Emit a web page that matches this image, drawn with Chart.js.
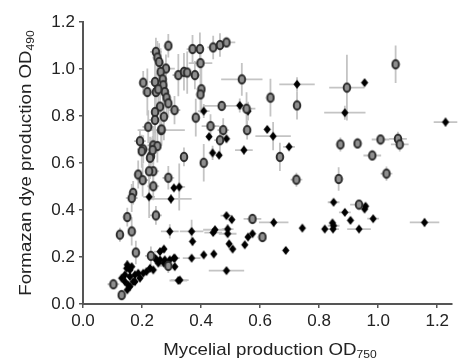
<!DOCTYPE html>
<html>
<head>
<meta charset="utf-8">
<script src="https://cdn.jsdelivr.net/npm/chart.js@4/dist/chart.umd.min.js"></script>
<style>
  body { margin: 0; background: #fff; }
</style>
</head>
<body>
<canvas id="chart" width="461" height="360"></canvas>
<script>
// open circles: x, y, x error, y error
var circX  = [0.289,0.247,0.252,0.258,0.281,0.263,0.323,0.342,0.353,0.379,0.204,0.244,0.270,0.272,0.218,0.247,0.277,0.283,0.289,0.261,0.310,0.244,0.274,0.244,0.221,0.265,0.193,0.204,0.238,0.252,0.230,0.342,0.371,0.396,0.441,0.464,0.486,0.398,0.401,0.398,0.382,0.432,0.475,0.464,0.409,0.289,0.238,0.224,0.187,0.202,0.238,0.170,0.165,0.150,0.247,0.125,0.165,0.179,0.230,0.289,0.103,0.131,0.538,0.635,0.725,0.470,0.554,0.556,0.667,0.723,0.574,0.608,1.059,0.894,0.872,0.930,1.008,1.067,1.073,0.980,1.028,0.866,0.935,0.199,0.227,0.255,0.266,0.236];
var circY  = [1.099,1.073,1.049,1.030,1.002,0.988,0.974,0.988,0.985,0.974,0.942,0.945,0.956,0.931,0.902,0.902,0.902,0.878,0.854,0.840,0.825,0.817,0.797,0.783,0.754,0.740,0.693,0.658,0.675,0.672,0.629,0.626,1.085,1.085,1.092,1.102,1.113,1.025,0.914,0.892,0.793,0.757,0.740,0.697,0.601,0.537,0.565,0.565,0.551,0.527,0.501,0.473,0.451,0.370,0.377,0.295,0.309,0.219,0.205,0.162,0.084,0.038,0.956,0.878,0.845,0.843,0.831,0.740,0.626,0.529,0.362,0.285,1.020,0.921,0.679,0.683,0.700,0.703,0.679,0.632,0.555,0.532,0.423,0.650,0.622,0.914,0.743,0.655];
var circXe = [0.01,0.02,0.01,0.01,0.03,0.01,0.02,0.01,0.01,0.02,0.01,0.02,0.01,0.01,0.01,0.02,0.01,0.01,0.01,0.01,0.02,0.01,0.01,0.02,0.02,0.08,0.02,0.02,0.02,0.01,0.01,0.01,0.02,0.01,0.02,0.02,0.03,0.04,0.01,0.01,0.01,0.03,0.02,0.02,0.01,0.02,0.02,0.01,0.01,0.02,0.02,0.01,0.02,0.01,0.02,0.01,0.01,0.01,0.02,0.03,0.02,0.01,0.07,0.01,0.01,0.06,0.03,0.01,0.01,0.02,0.03,0.01,0.005,0.06,0.01,0.01,0.03,0.03,0.03,0.03,0.02,0.005,0.03,0.01,0.01,0.01,0.01,0.01];
var circYe = [0.05,0.06,0.07,0.08,0.06,0.10,0.09,0.08,0.09,0.06,0.05,0.10,0.08,0.10,0.10,0.08,0.07,0.07,0.06,0.08,0.06,0.09,0.10,0.09,0.07,0.06,0.05,0.06,0.08,0.07,0.08,0.04,0.06,0.07,0.05,0.05,0.01,0.06,0.10,0.08,0.08,0.05,0.05,0.06,0.08,0.05,0.08,0.07,0.06,0.07,0.06,0.05,0.06,0.04,0.04,0.03,0.06,0.05,0.04,0.03,0.02,0.02,0.07,0.08,0.06,0.02,0.07,0.04,0.06,0.03,0.01,0.02,0.08,0.14,0.03,0.02,0.02,0.03,0.03,0.02,0.03,0.05,0.01,0.07,0.09,0.09,0.07,0.06];

// filled diamonds: x, y, x error, y error
var diaX  = [0.725,0.531,0.559,0.409,0.427,0.486,0.624,0.644,0.698,0.545,0.439,0.461,0.954,0.887,1.228,0.326,0.308,0.224,0.298,0.486,0.504,0.646,0.743,0.819,0.368,0.447,0.441,0.490,0.490,0.371,0.495,0.507,0.574,0.559,0.548,0.687,0.368,0.409,0.443,0.486,0.328,0.849,0.957,0.954,0.887,0.906,0.983,0.845,0.849,0.847,0.935,1.157,0.294,0.274,0.261,0.244,0.261,0.277,0.294,0.308,0.274,0.323,0.311,0.150,0.159,0.142,0.131,0.142,0.159,0.176,0.187,0.204,0.215,0.193,0.170,0.153,0.148,0.165,0.150,0.227,0.238,0.255,0.249,0.311,0.176,0.159];
var diaY  = [0.935,0.845,0.821,0.821,0.712,0.703,0.743,0.714,0.669,0.655,0.643,0.633,0.942,0.814,0.774,0.498,0.494,0.456,0.447,0.376,0.359,0.347,0.323,0.319,0.309,0.316,0.304,0.319,0.299,0.266,0.256,0.234,0.299,0.285,0.252,0.228,0.195,0.209,0.213,0.142,0.102,0.433,0.416,0.404,0.390,0.356,0.363,0.345,0.333,0.319,0.319,0.347,0.309,0.234,0.223,0.195,0.188,0.188,0.188,0.195,0.174,0.100,0.159,0.167,0.145,0.124,0.110,0.095,0.117,0.124,0.131,0.131,0.138,0.110,0.095,0.081,0.152,0.159,0.060,0.152,0.145,0.174,0.188,0.195,0.095,0.074];
var diaXe = [0.06,0.01,0.01,0.02,0.01,0.01,0.01,0.06,0.02,0.03,0.01,0.01,0.01,0.07,0.04,0.02,0.01,0.02,0.07,0.02,0.01,0.05,0.01,0.01,0.04,0.04,0.03,0.02,0.03,0.01,0.01,0.01,0.01,0.01,0.01,0.01,0.03,0.01,0.01,0.06,0.03,0.02,0.01,0.01,0.02,0.01,0.02,0.01,0.02,0.02,0.04,0.05,0.03,0.01,0.02,0.01,0.01,0.01,0.01,0.02,0.01,0.03,0.01,0.01,0.01,0.01,0.01,0.01,0.01,0.01,0.01,0.01,0.01,0.01,0.01,0.01,0.01,0.01,0.01,0.01,0.01,0.01,0.01,0.01,0.01,0.01];
var diaYe = [0.03,0.03,0.04,0.03,0.01,0.01,0.01,0.06,0.01,0.02,0.03,0.01,0.01,0.03,0.02,0.10,0.01,0.09,0.02,0.01,0.01,0.02,0.01,0.01,0.05,0.01,0.01,0.02,0.01,0.02,0.01,0.01,0.01,0.01,0.01,0.01,0.01,0.01,0.01,0.01,0.01,0.01,0.01,0.01,0.01,0.01,0.01,0.01,0.01,0.01,0.01,0.02,0.03,0.01,0.01,0.01,0.01,0.01,0.01,0.01,0.01,0.01,0.01,0.02,0.01,0.01,0.01,0.01,0.01,0.01,0.01,0.01,0.01,0.01,0.01,0.01,0.01,0.01,0.01,0.01,0.01,0.01,0.01,0.01,0.01,0.01];

var xTicks = [0, 0.2, 0.4, 0.6, 0.8, 1.0, 1.2];
var yTicks = [0, 0.2, 0.4, 0.6, 0.8, 1.0, 1.2];

var xTitle = 'Mycelial production OD', xSub = '750';
var yTitle = 'Formazan dye production OD', ySub = '490';
var FONT = '"Liberation Sans", Arial, sans-serif';

function pack(xs, ys, xe, ye) {
    return xs.map(function (x, i) { return {x: x, y: ys[i], xe: xe[i], ye: ye[i]}; });
}

// marker images
function makeCircle() {
    var c = document.createElement('canvas');
    c.width = 10; c.height = 12;
    var g = c.getContext('2d');
    g.beginPath();
    g.ellipse(5, 6, 3.3, 4.2, 0, 0, Math.PI * 2);
    g.fillStyle = '#8e8e8e';
    g.fill();
    g.lineWidth = 1.9;
    g.strokeStyle = '#2a2a2a';
    g.stroke();
    return c;
}
function makeDiamond() {
    var c = document.createElement('canvas');
    c.width = 10; c.height = 11;
    var g = c.getContext('2d');
    g.beginPath();
    g.moveTo(5, 1); g.lineTo(8.6, 5.5); g.lineTo(5, 10); g.lineTo(1.4, 5.5);
    g.closePath();
    g.fillStyle = '#000';
    g.fill();
    return c;
}

// draw error bars behind the markers
var errorBars = {
    id: 'errorBars',
    beforeDatasetsDraw: function (chart) {
        var ctx = chart.ctx, xs = chart.scales.x, ys = chart.scales.y;
        ctx.save();
        ctx.strokeStyle = '#c4c4c4';
        ctx.lineWidth = 1.8;
        chart.data.datasets.forEach(function (ds) {
            ds.data.forEach(function (p) {
                var px = xs.getPixelForValue(p.x), py = ys.getPixelForValue(p.y);
                ctx.beginPath();
                ctx.moveTo(xs.getPixelForValue(p.x - p.xe), py);
                ctx.lineTo(xs.getPixelForValue(p.x + p.xe), py);
                ctx.moveTo(px, ys.getPixelForValue(p.y - p.ye));
                ctx.lineTo(px, ys.getPixelForValue(p.y + p.ye));
                ctx.stroke();
            });
        });
        ctx.restore();
    }
};

// axis titles with subscripts
function drawSubTitle(ctx, main, sub, cx, baseY) {
    ctx.font = '17px ' + FONT;
    var w1 = ctx.measureText(main).width;
    ctx.font = '11px ' + FONT;
    var w2 = ctx.measureText(sub).width;
    ctx.save();
    ctx.scale(1.1, 1);
    var start = cx / 1.1 - (w1 + w2) / 2;
    ctx.fillStyle = '#222';
    ctx.textBaseline = 'alphabetic';
    ctx.textAlign = 'left';
    ctx.font = '17px ' + FONT;
    ctx.fillText(main, start, baseY);
    ctx.font = '11px ' + FONT;
    ctx.fillText(sub, start + w1, baseY + 3);
    ctx.restore();
}
var axisTitles = {
    id: 'axisTitles',
    afterDraw: function (chart) {
        var ctx = chart.ctx;
        drawSubTitle(ctx, xTitle, xSub, 270, 355);
        ctx.save();
        ctx.translate(31, 163);
        ctx.rotate(-Math.PI / 2);
        drawSubTitle(ctx, yTitle, ySub, 0, 0);
        ctx.restore();
    }
};

function setTicks(list) {
    return function (scale) {
        scale.ticks = list.map(function (v) { return {value: v}; });
    };
}

new Chart(document.getElementById('chart').getContext('2d'), {
    type: 'scatter',
    data: {
        datasets: [{
            label: 'open',
            data: pack(circX, circY, circXe, circYe),
            pointStyle: makeCircle()
        }, {
            label: 'filled',
            data: pack(diaX, diaY, diaXe, diaYe),
            pointStyle: makeDiamond()
        }]
    },
    options: {
        responsive: false,
        animation: false,
        layout: { padding: { left: 0, right: 9, top: 22, bottom: 0 } },
        plugins: { legend: { display: false }, tooltip: { enabled: false } },
        scales: {
            x: {
                type: 'linear',
                min: 0, max: 1.25,
                afterBuildTicks: setTicks(xTicks),
                afterFit: function (s) { s.height = 56; },
                border: { color: '#555', width: 2 },
                grid: { drawOnChartArea: false, tickLength: 4, color: '#555', lineWidth: 1.5 },
                ticks: {
                    padding: 3, color: '#222',
                    font: { family: FONT, size: 17 },
                    callback: function (v) { return v.toFixed(1); }
                }
            },
            y: {
                type: 'linear',
                min: 0, max: 1.2,
                afterBuildTicks: setTicks(yTicks),
                afterFit: function (s) { s.width = 83; },
                border: { color: '#555', width: 2 },
                grid: { drawOnChartArea: false, tickLength: 4, color: '#555', lineWidth: 1.5 },
                ticks: {
                    padding: 4, color: '#222',
                    font: { family: FONT, size: 17 },
                    callback: function (v) { return v.toFixed(1); }
                }
            }
        }
    },
    plugins: [errorBars, axisTitles]
});
</script>
</body>
</html>
